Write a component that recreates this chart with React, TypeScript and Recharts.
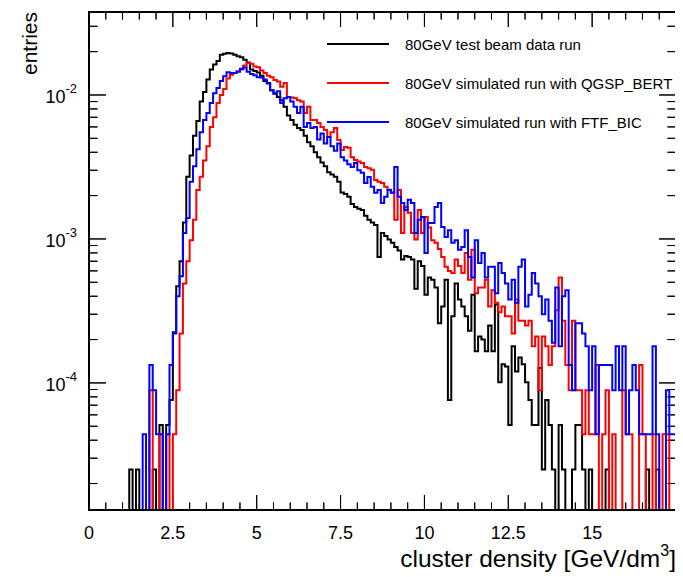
import { ComposedChart, Line, XAxis, YAxis, Legend, Label } from "recharts";

// histogram bins of 0.1 GeV/dm3 starting at 0; entries given in units of 1e-4
const BIN_WIDTH = 0.1;
const UNIT = 1e-4;
const X_MAX = 17.5;
const Y_MIN = 1.31e-5;
const Y_MAX = 0.0377;

const DATA_RUN = [
  0, 0, 0, 0, 0, 0, 0, 0, 0, 0,
  0, 0, 0.25, 0, 0.25, 0, 0, 0, 0, 0.25,
  0, 0.51, 0, 0.51, 0.76, 2.25, 4.7, 7, 13, 27,
  38, 52, 66, 90, 105, 128, 150, 163, 172, 190,
  193, 196, 194, 190, 186, 183, 176, 168, 150, 147,
  143, 136, 125, 121, 108, 102, 97, 92, 83, 72,
  67, 62, 59, 57, 52, 47, 44, 40, 37, 34,
  32, 29, 28, 27, 25, 21, 20.5, 19.6, 17.5, 16.7,
  16.2, 15.9, 14.5, 13.6, 13.0, 12.5, 7.5, 11.0, 10.5, 9.9,
  9.4, 8.8, 8.3, 7.2, 7.6, 7.5, 7.2, 4.5, 7.0, 6.5,
  4.1, 5.4, 5.2, 4.6, 2.6, 3.4, 5.2, 0.76, 2.9, 4.9,
  3.8, 3.4, 2.9, 2.3, 4.1, 1.66, 2.1, 2.0, 1.66, 2.5,
  1.66, 3.5, 1.01, 1.35, 1.3, 0.51, 1.8, 1.2, 1.5, 1.35,
  1.01, 0.76, 0.51, 0.51, 1.27, 0.25, 0.76, 0.51, 0.25, 0,
  0.51, 0.25, 0, 0, 0.25, 0.51, 0.51, 0.25, 0, 0.25,
  0, 0, 0, 0, 0.25, 0, 0, 0, 0, 0,
  0, 0, 0, 0, 0, 0, 0.25, 0, 0, 0.25,
  0, 0, 0, 0, 0,
];

const QGSP_BERT = [
  0, 0, 0, 0, 0, 0, 0, 0, 0, 0,
  0, 0, 0, 0, 0, 0, 0, 0, 0.89, 0,
  0, 0.44, 0, 0.44, 0, 0.44, 0.89, 2.2, 4.9, 7,
  9.8, 13.6, 21.9, 27, 35, 44, 60, 70, 88, 100,
  110, 130, 138, 142, 146, 150, 160, 167, 165, 158,
  156, 148, 142, 136, 133, 127, 124, 114, 121, 97,
  96, 95, 92, 90, 75, 83, 67, 67, 64, 60,
  57, 51, 55, 59, 48.7, 41.5, 43.6, 43, 37, 35.4,
  34.5, 33.7, 31.6, 31, 30.2, 25.7, 25, 24.5, 23, 22,
  21, 13.6, 21.9, 11, 16.7, 15.2, 11, 9.9, 15.9, 11,
  14.2, 12, 9.8, 9.4, 8.5, 7.5, 6.4, 6.0, 5.8, 7.2,
  6.5, 5.8, 8.0, 5.2, 8.4, 4.2, 4.6, 4.6, 5.2, 3.4,
  4.4, 3.6, 3.1, 3.4, 2.9, 2.9, 2.2, 3.8, 2.7, 2.7,
  2.5, 2.7, 1.8, 2.1, 0.89, 2.1, 1.8, 1.33, 1.8, 3.2,
  5.4, 2.7, 1.33, 0.89, 2.7, 0.89, 0.89, 0.44, 0.89, 0.44,
  0.44, 1.33, 0, 0.44, 0.89, 0, 0.44, 0, 0, 0.89,
  0.44, 0.44, 0, 0, 1.33, 0.44, 0, 0, 0.44, 0,
  0, 0.44, 0.44, 0, 0,
];

const FTF_BIC = [
  0, 0, 0, 0, 0, 0, 0, 0, 0, 0,
  0, 0, 0, 0, 0, 0, 0.44, 0, 1.33, 0.89,
  0.44, 0.44, 0, 0.44, 1.33, 2.2, 4.0, 5.5, 11, 14,
  25, 32, 42, 55, 67, 75, 88, 103, 112, 125,
  135, 144, 142, 142, 145, 152, 155, 145, 140, 137,
  133, 132, 128, 120, 108, 103, 106, 88, 95, 97,
  90, 83, 75, 83, 60, 64, 59, 60, 49, 54,
  46, 51, 44, 41, 46, 37, 35, 33, 31.6, 33.7,
  30, 28.8, 24.5, 26.9, 23, 20.9, 21.9, 17.8, 19.6, 21.9,
  20.9, 31.6, 19.6, 17.8, 15.9, 18.7, 17.8, 11, 13.6, 14.2,
  8.0, 12.9, 12.9, 16.7, 17.8, 12.1, 10.3, 11.5, 9.4, 9.8,
  8.4, 8.8, 11.5, 7.5, 5.4, 9.8, 6.8, 8.0, 5.4, 6.4,
  6.4, 4.2, 6.8, 5.8, 4.9, 3.8, 5.2, 3.6, 6.4, 7.2,
  3.4, 4.1, 5.8, 4.9, 4.0, 3.0, 3.8, 2.7, 1.9, 4.6,
  1.8, 4.0, 4.4, 1.33, 0.89, 2.6, 2.6, 2.2, 1.8, 0.89,
  1.8, 0.44, 1.33, 1.33, 1.33, 1.33, 0.89, 1.8, 0.89, 1.8,
  0.44, 0.89, 1.33, 0.89, 0.44, 0.44, 0.44, 0.44, 1.8, 0.44,
  0, 0, 0.89, 0.44, 0.44,
];

const SERIES_NAMES = [
  "80GeV test beam data run",
  "80GeV simulated run with QGSP_BERT",
  "80GeV simulated run with FTF_BIC",
];
const SERIES_KEYS = ["data", "qgsp", "ftf"];
const SERIES_COLORS = ["#000000", "#ff0000", "#0000ff"];

const X_LABELS = [0, 2.5, 5, 7.5, 10, 12.5, 15];
const X_TICKS = [
  0, 0.5, 1, 1.5, 2, 2.5, 3, 3.5, 4, 4.5, 5, 5.5, 6, 6.5, 7, 7.5, 8, 8.5,
  9, 9.5, 10, 10.5, 11, 11.5, 12, 12.5, 13, 13.5, 14, 14.5, 15, 15.5, 16, 16.5, 17,
];
const Y_LABELS = [1e-4, 1e-3, 1e-2];
const Y_TICKS = [
  2e-5, 3e-5, 4e-5, 5e-5, 6e-5, 7e-5, 8e-5, 9e-5,
  1e-4, 2e-4, 3e-4, 4e-4, 5e-4, 6e-4, 7e-4, 8e-4, 9e-4,
  1e-3, 2e-3, 3e-3, 4e-3, 5e-3, 6e-3, 7e-3, 8e-3, 9e-3,
  1e-2, 2e-2, 3e-2,
];

const CHART_W = 675;
const CHART_H = 569;
const TOP_H = 4;
const RIGHT_W = 7;
const BOTTOM_H = 67;
const LEFT_W = 81;
const X_TICK_LEN = 15;
const Y_TICK_LEN = 17;
const FONT = "'Liberation Sans', Arial, Helvetica, sans-serif";
const FRAME = { stroke: "#000", strokeWidth: 2, strokeLinecap: "square" as const };

const PLOT_W = CHART_W - LEFT_W - RIGHT_W;
const PLOT_H = CHART_H - TOP_H - BOTTOM_H;
const PX_PER_DECADE = PLOT_H / Math.log10(Y_MAX / Y_MIN);
// tick lengths are pixel sizes; turn them into axis units so the scales place them
const shiftLog = (v: number, px: number) => v * Math.pow(10, px / PX_PER_DECADE);
const pxToX = (px: number) => (px * X_MAX) / PLOT_W;

const isMajorX = (v: number) => Math.abs(v / 2.5 - Math.round(v / 2.5)) < 1e-6;
const isMajorY = (v: number) => {
  const e = Math.log10(v);
  return Math.abs(e - Math.round(e)) < 1e-6;
};

// empty bins sit on the bottom of the log frame, like ROOT draws them
const toY = (v: number) => (v > 0 ? v * UNIT : Y_MIN);

const rows: Record<string, number>[] = DATA_RUN.map((_, i) => ({
  x: Math.round(i * BIN_WIDTH * 10) / 10,
  data: toY(DATA_RUN[i]),
  qgsp: toY(QGSP_BERT[i]),
  ftf: toY(FTF_BIC[i]),
}));
rows.push({ ...rows[rows.length - 1], x: X_MAX });

// frame tick marks: each side is one zig-zag path running along the frame edge
X_TICKS.forEach((t) => {
  const len = isMajorX(t) ? X_TICK_LEN : X_TICK_LEN / 2;
  rows.push({ x: t, tb: Y_MIN }, { x: t, tb: shiftLog(Y_MIN, len) }, { x: t, tb: Y_MIN });
});
X_TICKS.forEach((t) => {
  const len = isMajorX(t) ? X_TICK_LEN : X_TICK_LEN / 2;
  rows.push({ x: t, tt: Y_MAX }, { x: t, tt: shiftLog(Y_MAX, -len) }, { x: t, tt: Y_MAX });
});
Y_TICKS.forEach((t) => {
  const len = isMajorY(t) ? Y_TICK_LEN : Y_TICK_LEN / 2;
  rows.push({ x: 0, tl: t }, { x: pxToX(len), tl: t }, { x: 0, tl: t });
});
Y_TICKS.forEach((t) => {
  const len = isMajorY(t) ? Y_TICK_LEN : Y_TICK_LEN / 2;
  rows.push({ x: X_MAX, tr: t }, { x: X_MAX - pxToX(len), tr: t }, { x: X_MAX, tr: t });
});
const TICK_KEYS = ["tb", "tt", "tl", "tr"];

function BottomLabel({ x, y, payload }: any) {
  return (
    <text x={x} y={y + 29} textAnchor="middle" fontSize={18} fontFamily={FONT} fill="#000">
      {String(payload.value)}
    </text>
  );
}

function LeftLabel({ x, y, payload }: any) {
  const exp = Math.round(Math.log10(payload.value));
  return (
    <text x={x - 12} y={y + 8} textAnchor="end" fontSize={18} fontFamily={FONT} fill="#000">
      10
      <tspan dy={-10} fontSize={13}>
        {String(exp)}
      </tspan>
    </text>
  );
}

function XTitle() {
  const right = CHART_W - RIGHT_W;
  return (
    <text x={right} y={CHART_H - 10} textAnchor="end" fontSize={24.5} fontFamily={FONT} fill="#000">
      cluster density [GeV/dm
      <tspan dy={-11} fontSize={16}>3</tspan>
      <tspan dy={11}>]</tspan>
    </text>
  );
}

function YTitle() {
  const x = 29;
  const y = TOP_H;
  return (
    <text x={x} y={y} transform={`rotate(-90 ${x} ${y})`} textAnchor="end" fontSize={21} fontFamily={FONT} fill="#000">
      entries
    </text>
  );
}

function HistLegend() {
  return (
    <div style={{ fontFamily: FONT, fontSize: 15, color: "#000" }}>
      {SERIES_NAMES.map((name, i) => (
        <div key={name} style={{ display: "flex", alignItems: "center", height: 39, whiteSpace: "nowrap" }}>
          <svg width={62} height={4} style={{ marginRight: 16 }}>
            <path d="M0,2H62" stroke={SERIES_COLORS[i]} strokeWidth={2} />
          </svg>
          <span>{name}</span>
        </div>
      ))}
    </div>
  );
}

const xCommon = {
  dataKey: "x",
  type: "number" as const,
  domain: [0, X_MAX],
  interval: 0,
  stroke: "#000",
  tickSize: 0,
  tickMargin: 0,
  tickLine: false,
};
const yCommon = {
  type: "number" as const,
  scale: "log" as const,
  domain: [Y_MIN, Y_MAX],
  interval: 0,
  stroke: "#000",
  tickSize: 0,
  tickMargin: 0,
  tickLine: false,
};

export default function App() {
  return (
    <div>
      <style>{"html{overflow:hidden}"}</style>
      <ComposedChart width={CHART_W} height={CHART_H} data={rows} margin={{ top: 0, right: 0, bottom: 0, left: 0 }}>
        <XAxis xAxisId="x" {...xCommon} ticks={X_LABELS} height={BOTTOM_H} axisLine={FRAME} tick={BottomLabel}>
          <Label content={XTitle} />
        </XAxis>
        <XAxis xAxisId="xTop" orientation="top" {...xCommon} ticks={X_LABELS} height={TOP_H} axisLine={FRAME} tick={false} />
        <YAxis yAxisId="y" {...yCommon} ticks={Y_LABELS} width={LEFT_W} axisLine={FRAME} tick={LeftLabel}>
          <Label content={YTitle} />
        </YAxis>
        <YAxis yAxisId="yRight" orientation="right" {...yCommon} ticks={Y_LABELS} width={RIGHT_W} axisLine={FRAME} tick={false} />

        <Legend
          layout="vertical"
          align="center"
          verticalAlign="middle"
          content={HistLegend}
          wrapperStyle={{ top: 16.5, left: 319, width: "auto" }}
        />
        <Line
          xAxisId="xTop"
          yAxisId="yRight"
          dataKey="data"
          type="stepAfter"
          stroke="none"
          dot={false}
          activeDot={false}
          legendType="none"
          isAnimationActive={false}
        />
        {TICK_KEYS.map((key) => (
          <Line
            key={key}
            xAxisId="x"
            yAxisId="y"
            dataKey={key}
            name={key}
            type="stepAfter"
            stroke="#000000"
            strokeWidth={1}
            dot={false}
            activeDot={false}
            isAnimationActive={false}
          />
        ))}
        {SERIES_KEYS.map((key, i) => (
          <Line
            key={key}
            xAxisId="x"
            yAxisId="y"
            dataKey={key}
            name={SERIES_NAMES[i]}
            type="stepAfter"
            stroke={SERIES_COLORS[i]}
            strokeWidth={2}
            dot={false}
            activeDot={false}
            isAnimationActive={false}
          />
        ))}
      </ComposedChart>
    </div>
  );
}
